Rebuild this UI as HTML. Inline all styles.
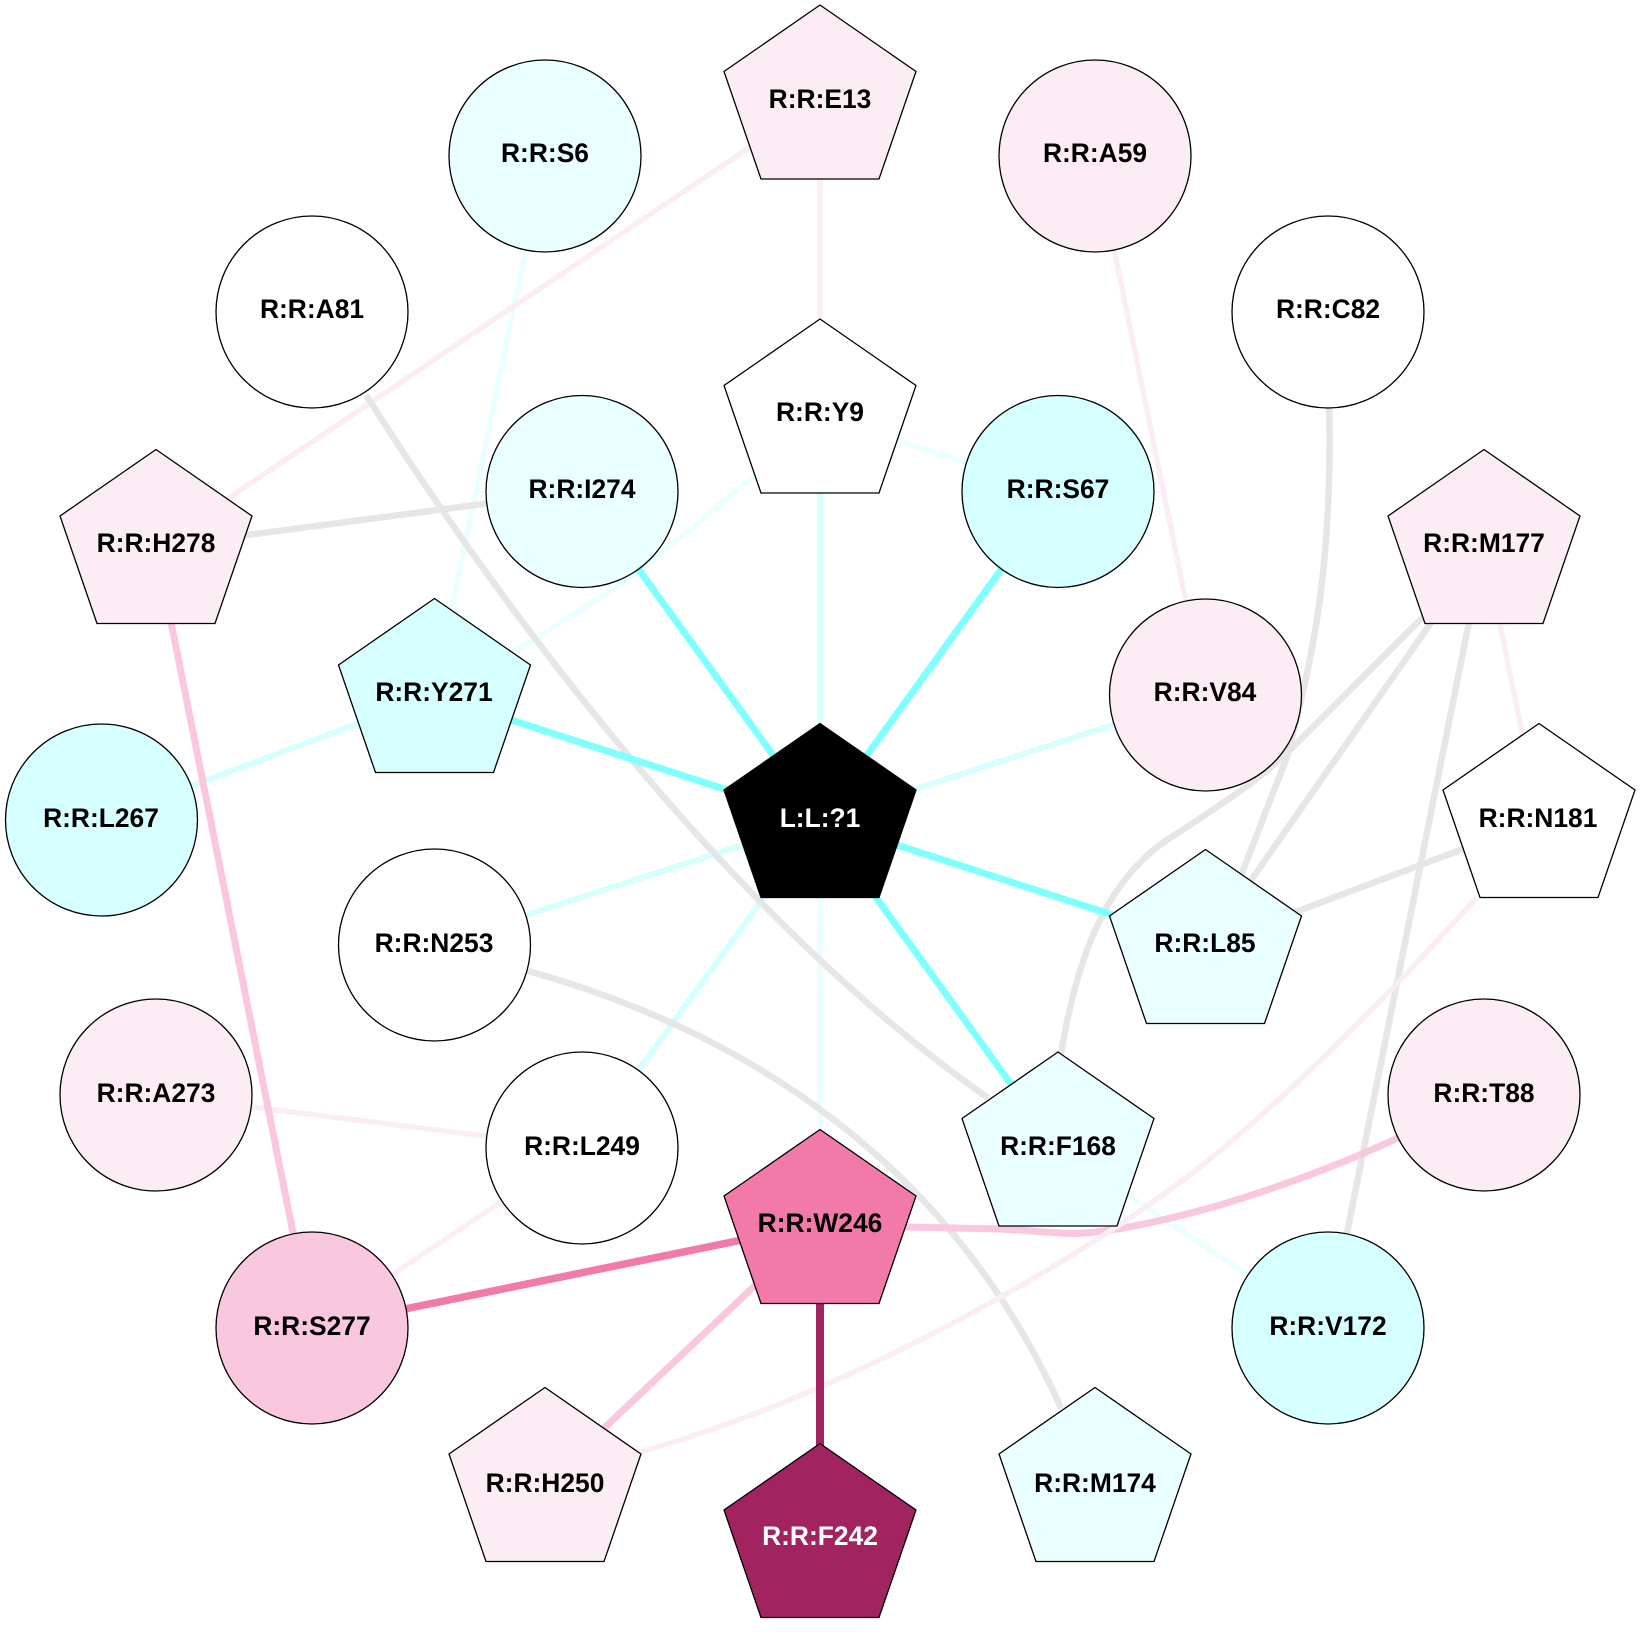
<!DOCTYPE html>
<html><head><meta charset="utf-8"><style>
html,body{margin:0;padding:0;background:#fff}
svg{display:block}
text{font-family:"Liberation Sans",Arial,sans-serif;font-weight:bold;font-size:26.4px;text-anchor:middle}
</style></head><body>
<svg width="1640" height="1640" viewBox="0 0 1640 1640" xmlns="http://www.w3.org/2000/svg">
<defs>
<polygon id="p" points="0,-96.5 96,-30 59,77.5 -59,77.5 -96,-30" stroke="#000" stroke-width="1.3"/>
</defs>
<g fill="none" stroke-linecap="butt">
<g stroke="#eaffff" stroke-width="5.5">
<path d="M820,820V1224"/><path d="M820,416L1058,491"/><path d="M820,421L653,560C620,587 570,617 500,660L434,695"/><path d="M545,156L434,695"/><path d="M1058,1149L1328,1328"/>
</g>
<g stroke="#d6ffff" stroke-width="6">
<path d="M820,820V416"/><path d="M820,820L1205,695"/><path d="M820,820L434,945"/><path d="M820,820L582,1148"/><path d="M434,695L101,820"/>
</g>
<g stroke="#fcedf4" stroke-width="5.5">
<path d="M820,100V416"/><path d="M820,100L156,547"/><path d="M1095,156L1205,695"/><path d="M1484,547L1540,820"/><path d="M156,1095L582,1148"/><path d="M582,1148L312,1328"/>
</g>
<g stroke="#e6e6e6" stroke-width="6.5">
<path d="M156,547L582,491"/><path d="M366,395C490,590 720,910 988,1098"/>
<path d="M1329,400C1333,560 1315,650 1287,757L1205,968"/>
<path d="M1484,556L1290,750C1262,778 1222,804 1167,840C1112,877 1078,945 1060,1060"/>
<path d="M1484,547L1205,946"/><path d="M1484,547L1328,1328"/><path d="M1540,820L1205,946"/>
<path d="M528,971C740,1030 950,1160 1061,1408"/>
</g>
<g stroke="#80ffff" stroke-width="7">
<path d="M820,820L582,491"/><path d="M820,820L1058,491"/><path d="M820,820L434,695"/><path d="M820,820L1205,945"/><path d="M820,820L1058,1149"/>
</g>
<g stroke="#f9c7de" stroke-width="7">
<path d="M156,547L312,1328"/><path d="M820,1224L545,1484"/>
<path d="M860,1226L1000,1229C1040,1231 1060,1234 1077,1233.5C1110,1232 1160,1222 1220,1205C1280,1187 1340,1165 1400,1137"/>
</g>
<path d="M1476,898C1385,1000 1275,1110 1187,1177C1070,1266 845,1395 640,1452" stroke="#fcedf4" stroke-width="5.5"/>
<path d="M820,1224L312,1328" stroke="#f27aa9" stroke-width="7.5"/>
<path d="M820,1224V1540" stroke="#a12460" stroke-width="8"/>
</g>

<g fill="#eaffff" stroke="#000" stroke-width="1.3"><circle cx="545" cy="156" r="96"/><circle cx="582" cy="491.5" r="96"/></g>
<g fill="#d6ffff" stroke="#000" stroke-width="1.3"><circle cx="1058" cy="491.5" r="96"/><circle cx="101.5" cy="820" r="96"/><circle cx="1328" cy="1328" r="96"/></g>
<g fill="#fcedf4" stroke="#000" stroke-width="1.3"><circle cx="1095" cy="156" r="96"/><circle cx="1205.5" cy="695" r="96"/><circle cx="156" cy="1095" r="96"/><circle cx="1484" cy="1095" r="96"/></g>
<g fill="#fff" stroke="#000" stroke-width="1.3"><circle cx="312" cy="312" r="96"/><circle cx="1328" cy="312" r="96"/><circle cx="434.5" cy="945" r="96"/><circle cx="582" cy="1148" r="96"/></g>
<circle cx="312" cy="1328" r="96" fill="#f9c7de" stroke="#000" stroke-width="1.3"/>

<use href="#p" x="820" y="101.5" fill="#fcedf4"/>
<use href="#p" x="820" y="415.5" fill="#fff"/>
<use href="#p" x="156" y="546" fill="#fcedf4"/>
<use href="#p" x="1484" y="546" fill="#fcedf4"/>
<use href="#p" x="434.5" y="695" fill="#d6ffff"/>
<use href="#p" x="820" y="820" fill="#000"/>
<use href="#p" x="1539" y="820" fill="#fff"/>
<use href="#p" x="1205.5" y="946" fill="#eaffff"/>
<use href="#p" x="1058" y="1148.5" fill="#eaffff"/>
<use href="#p" x="820" y="1226" fill="#f27aa9"/>
<use href="#p" x="545" y="1484" fill="#fcedf4"/>
<use href="#p" x="1095" y="1484" fill="#eaffff"/>
<use href="#p" x="820" y="1540" fill="#a12460"/>

<g fill="#000">
<text x="820" y="108">R:R:E13</text>
<text x="545" y="162">R:R:S6</text>
<text x="1095" y="162">R:R:A59</text>
<text x="312" y="318">R:R:A81</text>
<text x="1328" y="318">R:R:C82</text>
<text x="820" y="421">R:R:Y9</text>
<text x="582" y="498">R:R:I274</text>
<text x="1058" y="498">R:R:S67</text>
<text x="156" y="552">R:R:H278</text>
<text x="1484" y="552">R:R:M177</text>
<text x="434" y="701">R:R:Y271</text>
<text x="1205" y="701">R:R:V84</text>
<text x="101" y="827">R:R:L267</text>
<text x="1538" y="827">R:R:N181</text>
<text x="434" y="952">R:R:N253</text>
<text x="1205" y="952">R:R:L85</text>
<text x="156" y="1102">R:R:A273</text>
<text x="1484" y="1102">R:R:T88</text>
<text x="582" y="1155">R:R:L249</text>
<text x="1058" y="1155">R:R:F168</text>
<text x="820" y="1232">R:R:W246</text>
<text x="312" y="1335">R:R:S277</text>
<text x="1328" y="1335">R:R:V172</text>
<text x="545" y="1492">R:R:H250</text>
<text x="1095" y="1492">R:R:M174</text>
</g>
<g fill="#fff">
<text x="820" y="827">L:L:?1</text>
<text x="820" y="1545">R:R:F242</text>
</g>
</svg>
</body></html>
